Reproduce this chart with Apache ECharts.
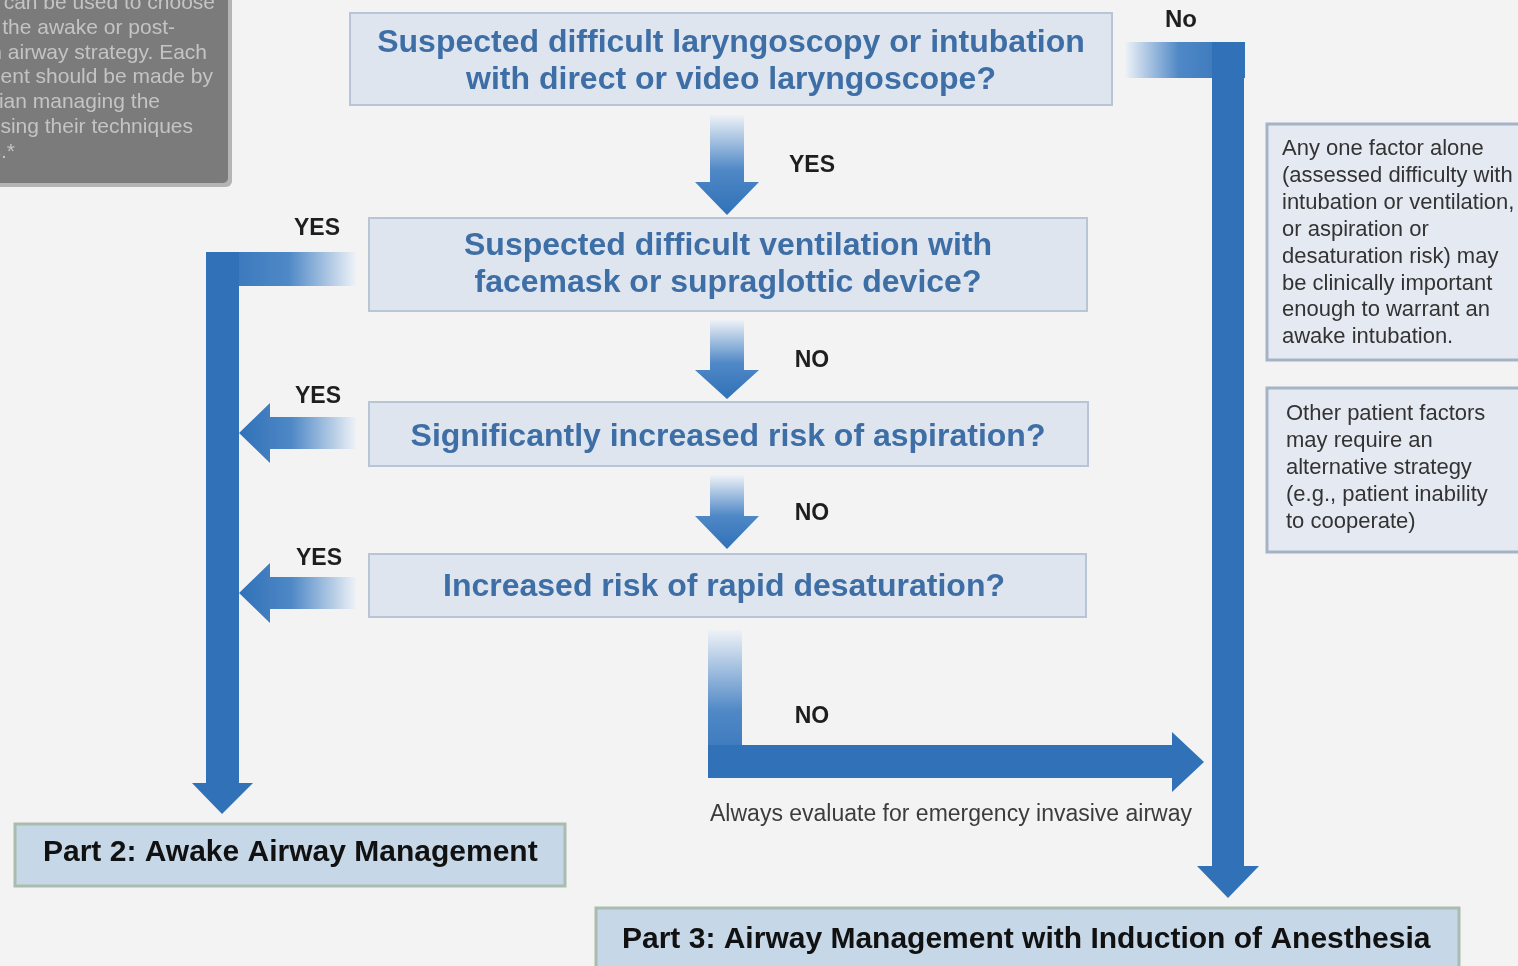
<!DOCTYPE html>
<html>
<head>
<meta charset="utf-8">
<script src="https://cdn.jsdelivr.net/npm/echarts@6/dist/echarts.min.js"></script>
<style>
  html, body { margin: 0; padding: 0; background: #f3f3f3; }
  #flow { width: 1518px; height: 966px; }
</style>
</head>
<body>
<div id="flow"></div>
<script>
// texts of the flowchart
var questions = [
  ['Suspected difficult laryngoscopy or intubation', 'with direct or video laryngoscope?'],
  ['Suspected difficult ventilation with', 'facemask or supraglottic device?'],
  ['Significantly increased risk of aspiration?'],
  ['Increased risk of rapid desaturation?']
];
var downLabels = ['YES', 'NO', 'NO', 'NO'];
var sideLabels = ['YES', 'YES', 'YES'];
var topRightLabel = 'No';
var outcomes = ['Part 2: Awake Airway Management', 'Part 3: Airway Management with Induction of Anesthesia'];
var footnote = 'Always evaluate for emergency invasive airway';
var noteA = ['Any one factor alone', '(assessed difficulty with', 'intubation or ventilation,', 'or aspiration or',
  'desaturation risk) may', 'be clinically important', 'enough to warrant an', 'awake intubation.'];
var noteB = ['Other patient factors', 'may require an', 'alternative strategy', '(e.g., patient inability', 'to cooperate)'];
var greyNote = ['can be used to choose', 'n the awake or post-', 'n airway strategy. Each', 'ment should be made by',
  'cian managing the', 'using their techniques', 's.*'];

(function () {
  var chart = echarts.init(document.getElementById('flow'));
  var BLUE = '#3071b8', LIGHT = '#eef2f7';
  var qBox = [[350, 13, 762, 92], [369, 218, 718, 93], [369, 402, 719, 64], [369, 554, 717, 63]];
  var qCenter = [[731, [43, 80]], [728, [246, 283]], [728, [437]], [724, [587]]];
  var greyEnds = [215, 175, 207, 213, 160, 193, 15];
  var els = [];

  function grad(x, y, x2, y2, a, b) {
    return new echarts.graphic.LinearGradient(x, y, x2, y2, [
      {offset: 0, color: a}, {offset: 0.55, color: '#4f88c6'}, {offset: 1, color: b}
    ]);
  }
  function text(t, x, y, font, fill, align) {
    els.push({type: 'text', z: 10, style: {text: t, x: x, y: y, font: font, fill: fill,
      textAlign: align || 'left', textVerticalAlign: 'middle'}});
  }
  function poly(pts, fill) {
    els.push({type: 'polygon', z: 5, shape: {points: pts}, style: {fill: fill}});
  }

  // grey note top-left
  els.push({type: 'rect', shape: {x: 0, y: 0, width: 232, height: 187, r: [0, 0, 6, 0]}, style: {fill: '#b4b4b4'}});
  els.push({type: 'rect', shape: {x: 0, y: 0, width: 228, height: 183, r: [0, 0, 5, 0]}, style: {fill: '#7b7b7b'}});
  greyNote.forEach(function (t, i) {
    text(t, greyEnds[i], 3 + i * 24.9, '21px "Liberation Sans"', '#c4c4c4', 'right');
  });

  // question boxes
  questions.forEach(function (lines, i) {
    var b = qBox[i];
    els.push({type: 'rect', z: 2, shape: {x: b[0], y: b[1], width: b[2], height: b[3]},
      style: {fill: '#dee5ef', stroke: '#b7c5d7', lineWidth: 2}});
    lines.forEach(function (t, j) {
      text(t, qCenter[i][0], qCenter[i][1][j], 'bold 32px "Liberation Sans"', '#3e6ea6', 'center');
    });
  });

  // down arrows between questions
  [[115, 182, 215], [320, 370, 399], [475, 516, 549]].forEach(function (a) {
    poly([[710, a[0]], [744, a[0]], [744, a[1]], [759, a[1]], [727, a[2]], [695, a[1]], [710, a[1]]],
      grad(0, 0, 0, 1, LIGHT, BLUE));
  });

  // left YES branch (L-shape down to Part 2)
  els.push({type: 'rect', z: 5, shape: {x: 206, y: 252, width: 150, height: 34},
    style: {fill: grad(0, 0, 1, 0, BLUE, LIGHT)}});
  poly([[206, 252], [239, 252], [239, 783], [253, 783], [222, 814], [192, 783], [206, 783]], BLUE);

  // left YES arrows
  [433, 593].forEach(function (cy) {
    poly([[356, cy - 16], [270, cy - 16], [270, cy - 30], [239, cy], [270, cy + 30], [270, cy + 16], [356, cy + 16]],
      grad(1, 0, 0, 0, LIGHT, BLUE));
  });

  // top-right No branch
  els.push({type: 'rect', z: 5, shape: {x: 1125, y: 42, width: 120, height: 36},
    style: {fill: grad(1, 0, 0, 0, BLUE, LIGHT)}});
  poly([[1212, 42], [1244, 42], [1244, 866], [1259, 866], [1228, 898], [1197, 866], [1212, 866]], BLUE);

  // bottom NO branch
  els.push({type: 'rect', z: 5, shape: {x: 708, y: 630, width: 34, height: 148},
    style: {fill: grad(0, 0, 0, 1, LIGHT, BLUE)}});
  poly([[708, 745], [1172, 745], [1172, 732], [1204, 762], [1172, 792], [1172, 778], [708, 778]], BLUE);

  // labels
  var lf = 'bold 23px "Liberation Sans"';
  [166, 361, 514, 717].forEach(function (y, i) { text(downLabels[i], 812, y, lf, '#1e1e1e', 'center'); });
  [[317, 229], [318, 397], [319, 559]].forEach(function (p, i) { text(sideLabels[i], p[0], p[1], lf, '#1e1e1e', 'center'); });
  text(topRightLabel, 1181, 20, 'bold 24px "Liberation Sans"', '#1e1e1e', 'center');
  text(footnote, 951, 815, '23px "Liberation Sans"', '#3c3c3c', 'center');

  // outcome boxes
  els.push({type: 'rect', z: 2, shape: {x: 15, y: 824, width: 550, height: 62},
    style: {fill: '#c6d7e7', stroke: '#a9bcae', lineWidth: 3}});
  text(outcomes[0], 43, 853, 'bold 30px "Liberation Sans"', '#111', 'left');
  els.push({type: 'rect', z: 2, shape: {x: 596, y: 908, width: 863, height: 70},
    style: {fill: '#c6d7e7', stroke: '#a9bcae', lineWidth: 3}});
  text(outcomes[1], 622, 940, 'bold 30px "Liberation Sans"', '#111', 'left');

  // side notes
  els.push({type: 'rect', z: 2, shape: {x: 1267, y: 124, width: 270, height: 236},
    style: {fill: '#e5eaf2', stroke: '#a4b3c6', lineWidth: 3}});
  noteA.forEach(function (t, i) { text(t, 1282, 149 + i * 26.9, '22px "Liberation Sans"', '#333', 'left'); });
  els.push({type: 'rect', z: 2, shape: {x: 1267, y: 388, width: 270, height: 164},
    style: {fill: '#e5eaf2', stroke: '#a4b3c6', lineWidth: 3}});
  noteB.forEach(function (t, i) { text(t, 1286, 414 + i * 27, '22px "Liberation Sans"', '#333', 'left'); });

  chart.setOption({
    backgroundColor: '#f3f3f3',
    animation: false,
    graphic: {elements: els}
  });
})();
</script>
</body>
</html>
